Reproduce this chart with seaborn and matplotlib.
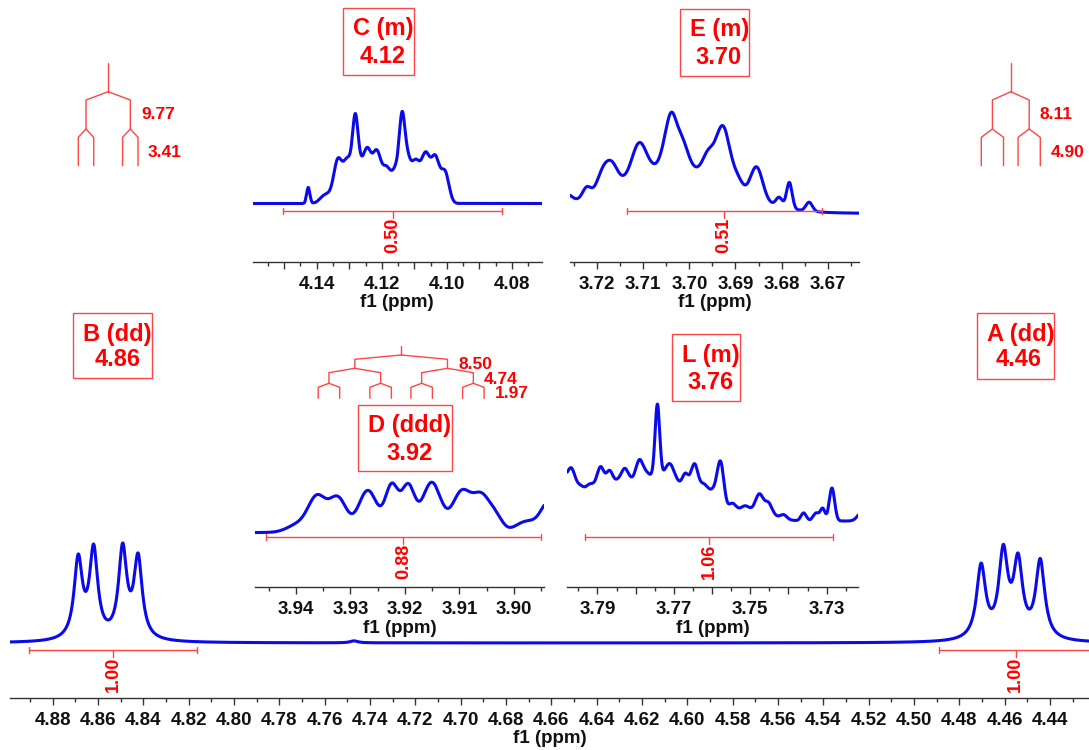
import numpy as np
import pandas as pd
import seaborn as sns
import matplotlib.pyplot as plt
from matplotlib import transforms
from matplotlib.patches import Rectangle

# ----------------------------
# DATA (ppm, height, line width)
# ----------------------------
MHZ = 500.0

# full spectrum: B (dd) and A (dd), Lorentzian lines
main_ppm = [4.8687, 4.8619, 4.8491, 4.8423, 4.7470, 4.4704, 4.4606, 4.4541, 4.4443]
main_amp = [79, 88, 89, 80, 2, 73, 84, 74, 78]
main_wid = [0.0022, 0.0022, 0.0022, 0.0022, 0.0020, 0.0024, 0.0024, 0.0024, 0.0024]

# inset C (m), Gaussian lines
c_ppm = [4.1426, 4.1372, 4.1335, 4.1305, 4.1275, 4.1245, 4.1215, 4.1185,
         4.1155, 4.1125, 4.1095, 4.1065, 4.1035, 4.1005, 4.1282, 4.1138]
c_amp = [16, 9, 42, 40, 40, 50, 48, 32, 32, 46, 38, 46, 44, 30, 46, 50]
c_sig = [0.0005, 0.0016, 0.0013, 0.0013, 0.0013, 0.0013, 0.0013, 0.0013,
         0.0013, 0.0013, 0.0013, 0.0013, 0.0013, 0.0012, 0.0008, 0.0008]

# inset E (m)
e_ppm = [3.7040, 3.7275, 3.7223, 3.7187, 3.7167, 3.7109, 3.7057, 3.7040,
         3.7017, 3.6959, 3.6927, 3.6895, 3.6854, 3.6805, 3.6783, 3.6740]
e_amp = [48, 14, 11, 20, 18, 30, 8, 46, 26, 20, 56, 10, 32, 9, 26, 9]
e_sig = [0.0120, 0.0017, 0.0009, 0.0013, 0.0012, 0.0015, 0.0009, 0.0011,
         0.0013, 0.0012, 0.0015, 0.0011, 0.0013, 0.0007, 0.0006, 0.0007]

# inset D (ddd)
d_ppm = [3.9395, 3.9361, 3.9323, 3.9268, 3.9224, 3.9194, 3.9151, 3.9096,
         3.9059, 3.9032, 3.8977, 3.8935]
d_amp = [8, 34, 34, 42, 46, 45, 50, 40, 35, 12, 11, 30]
d_sig = [0.0020, 0.0016, 0.0016, 0.0017, 0.0012, 0.0012, 0.0017, 0.0017,
         0.0016, 0.0012, 0.0020, 0.0015]

# inset L (m): plateau lines, then resolved lines
l_ppm = [3.7995, 3.7970, 3.7945, 3.7920, 3.7895, 3.7870, 3.7845, 3.7820,
         3.7795, 3.7770, 3.7745, 3.7720, 3.7695, 3.7670, 3.7645, 3.7620,
         3.7595,
         3.7967, 3.7891, 3.7867, 3.7830, 3.7788, 3.7743, 3.7708, 3.7670,
         3.7646, 3.7577, 3.7548, 3.7480, 3.7515, 3.7476, 3.7452, 3.7412,
         3.7360, 3.7327, 3.7310, 3.7286, 3.7205]
l_amp = [40, 38, 28, 30, 35, 35, 33, 35, 38, 38, 40, 40, 32, 34, 36, 30,
         25,
         8, 12, 8, 12, 16, 68, 14, 6, 14, 50, 15, 10, 8, 17, 10, 4,
         8, 8, 12, 33, 10]
l_sig = [0.0012, 0.0012, 0.0012, 0.0012, 0.0012, 0.0012, 0.0012, 0.0012,
         0.0012, 0.0012, 0.0012, 0.0012, 0.0012, 0.0012, 0.0012, 0.0012,
         0.0012,
         0.0009, 0.0008, 0.0008, 0.0008, 0.0009, 0.0006, 0.0009, 0.0007,
         0.0008, 0.0009, 0.0012, 0.0040, 0.0012, 0.0010, 0.0009, 0.0008,
         0.0007, 0.0008, 0.0006, 0.0007, 0.0012]

# integrals: (start ppm, end ppm, value)
int_b = (4.8904, 4.8163, "1.00")
int_a = (4.4888, 4.4216, "1.00")
int_c = (4.1503, 4.0829, "0.50")
int_e = (3.7136, 3.6713, "0.51")
int_d = (3.9455, 3.8951, "0.88")
int_l = (3.7932, 3.7284, "1.06")

# multiplet labels
lab_b = ("B (dd)", "4.86")
lab_a = ("A (dd)", "4.46")
lab_c = ("C (m)", "4.12")
lab_e = ("E (m)", "3.70")
lab_d = ("D (ddd)", "3.92")
lab_l = ("L (m)", "3.76")

# splitting trees: centre ppm and J (Hz)
tree_b = (4.8555, [9.77, 3.41])
tree_a = (4.4573, [8.11, 4.90])
tree_d = (3.9207, [8.50, 4.74, 1.97])

# ----------------------------
# STYLE / LAYOUT (pixels of a 1089x750 canvas)
# ----------------------------
W, H = 1089, 750
BLUE = "#0a0aeb"
RED = "#ff0000"
RED_LINE = "#ff4545"
TICK_FS = 13.5

sns.set_theme(style="white")
plt.rcParams["font.family"] = ["Liberation Sans", "DejaVu Sans"]
plt.rcParams["axes.facecolor"] = "none"

fig = plt.figure(figsize=(W / 100, H / 100), dpi=100)


def fy(y):
    return 1 - y / H


def line(grid, ppm, amp, wid, kind):
    x = np.asarray(grid)[:, None]
    p, a, w = np.asarray(ppm), np.asarray(amp), np.asarray(wid)
    if kind == "lorentz":
        return (a / (1 + ((x - p) / w) ** 2)).sum(axis=1)
    return (a * np.exp(-0.5 * ((x - p) / w) ** 2)).sum(axis=1)


def make_axes(left, right, top, axis_y, base_y, xlim, major, minor, labelled):
    ax = fig.add_axes([left / W, fy(axis_y), (right - left) / W, (axis_y - top) / H])
    ax.set_xlim(*xlim)
    ax.set_ylim(-(axis_y - base_y), base_y - top)
    sns.despine(ax=ax, left=True)
    ax.spines["bottom"].set_color("#333333")
    ax.spines["bottom"].set_linewidth(1.0)
    ax.set_yticks([])
    ax.set_xticks(major)
    ax.set_xticklabels([f"{v:.2f}" if lab else "" for v, lab in zip(major, labelled)])
    ax.set_xticks(minor, minor=True)
    ax.tick_params(axis="x", which="both", direction="out", bottom=True,
                   color="#333333", width=1.0, labelsize=TICK_FS, pad=5,
                   labelcolor="#111111")
    ax.tick_params(axis="x", which="major", length=5)
    ax.tick_params(axis="x", which="minor", length=3)
    for t in ax.get_xticklabels():
        t.set_fontweight("bold")
    ax.grid(False)
    return ax


def draw_spectrum(ax, ppm, amp, wid, kind):
    lo, hi = sorted(ax.get_xlim())
    grid = np.linspace(lo, hi, 3000)
    df = pd.DataFrame({"ppm": grid, "y": line(grid, ppm, amp, wid, kind)})
    sns.lineplot(data=df, x="ppm", y="y", ax=ax, color=BLUE, linewidth=2.2,
                 estimator=None, sort=False)
    ax.set_xlabel("f1 (ppm)", fontsize=TICK_FS, fontweight="bold", labelpad=1,
                  color="#111111")
    ax.set_ylabel("")


def draw_integral(ax, integ, y):
    start, end, value = integ
    tr = transforms.blended_transform_factory(ax.transData, fig.transFigure)
    kw = dict(transform=tr, color=RED_LINE, lw=1.0, clip_on=False)
    ax.plot([start, end], [fy(y), fy(y)], **kw)
    for x in (start, end):
        ax.plot([x, x], [fy(y - 3), fy(y + 3)], **kw)
    mid = (start + end) / 2
    ax.plot([mid, mid], [fy(y), fy(y + 7)], **kw)
    ax.text(mid, fy(y + 7), value, transform=tr, rotation=90, ha="center",
            va="top", color=RED, fontsize=13, fontweight="bold")


def draw_tree(ax, tree, stem, rows):
    centre, couplings = tree
    tr = transforms.blended_transform_factory(ax.transData, fig.transFigure)
    kw = dict(transform=tr, color=RED_LINE, lw=1.0, clip_on=False)
    ax.plot([centre, centre], [fy(stem[0]), fy(stem[1])], **kw)
    xs = [centre]
    for j, (y0, y1, y2) in zip(couplings, rows):
        nxt = []
        for x in xs:
            for s in (-1, 1):
                xc = x + s * j / MHZ / 2
                ax.plot([x, xc, xc], [fy(y0), fy(y1), fy(y2)], **kw)
                nxt.append(xc)
        xs = nxt


def draw_box(label, box, line1, line2):
    x0, y0, x1, y1 = box
    fig.add_artist(Rectangle((x0 / W, fy(y1)), (x1 - x0) / W, (y1 - y0) / H,
                             transform=fig.transFigure, fill=False,
                             edgecolor=RED_LINE, lw=1.0))
    fig.text(line1[0] / W, fy(line1[1]), label[0], ha="center", va="baseline",
             color=RED, fontsize=17, fontweight="bold")
    fig.text(line2[0] / W, fy(line2[1]), label[1], ha="center", va="baseline",
             color=RED, fontsize=17, fontweight="bold")


def jtext(x, y, s):
    fig.text(x / W, fy(y), s, ha="center", va="baseline", color=RED,
             fontsize=12.5, fontweight="bold")


def steps(a, b, step):
    n = int(round((a - b) / step))
    return [round(a - i * step, 3) for i in range(n + 1)]


# ----------------------------
# MAIN SPECTRUM
# ----------------------------
main_major = steps(4.88, 4.44, 0.02)
ax = make_axes(10, 1089, 0, 698, 643, (4.8988, 4.4228), main_major,
               steps(4.89, 4.43, 0.01), [True] * len(main_major))
draw_spectrum(ax, main_ppm, main_amp, main_wid, "lorentz")
draw_integral(ax, int_b, 650)
draw_integral(ax, int_a, 650)
tree_rows = [(91.7, 100, 129), (129, 137.3, 165.7)]
draw_tree(ax, tree_b, (63.3, 91.7), tree_rows)
draw_tree(ax, tree_a, (63.3, 91.7), tree_rows)
jtext(158, 119.3, "9.77")
jtext(164.3, 156.7, "3.41")
jtext(1055.8, 119, "8.11")
jtext(1067.7, 156.7, "4.90")
draw_box(lab_b, (73.3, 312.7, 151.7, 378.3), (117, 341.5), (117.7, 366.5))
draw_box(lab_a, (976.7, 312.7, 1054.3, 379), (1020.8, 341.5), (1018.7, 366.5))

# ----------------------------
# INSET C
# ----------------------------
maj = steps(4.15, 4.08, 0.01)
ax = make_axes(252.7, 541.7, 80, 261.7, 203.5, (4.1597, 4.0708), maj,
               steps(4.155, 4.075, 0.005), [round(v * 100) % 2 == 0 for v in maj])
draw_spectrum(ax, c_ppm, c_amp, c_sig, "gauss")
draw_integral(ax, int_c, 211)
draw_box(lab_c, (342.7, 8.3, 414, 75), (383, 35), (382.3, 63))

# ----------------------------
# INSET E
# ----------------------------
maj = steps(3.72, 3.67, 0.01)
ax = make_axes(570, 859, 80, 261.7, 213.3, (3.7259, 3.6632), maj,
               steps(3.725, 3.665, 0.005), [True] * len(maj))
draw_spectrum(ax, e_ppm, e_amp, e_sig, "gauss")
draw_integral(ax, int_e, 211)
draw_box(lab_e, (680, 9, 749.3, 76), (719.3, 36), (718.8, 64.3))

# ----------------------------
# INSET D
# ----------------------------
maj = steps(3.94, 3.90, 0.01)
ax = make_axes(255, 544, 470, 587.3, 532.5, (3.9475, 3.8945), maj,
               steps(3.945, 3.895, 0.005), [True] * len(maj))
draw_spectrum(ax, d_ppm, d_amp, d_sig, "gauss")
draw_integral(ax, int_d, 536.7)
draw_tree(ax, tree_d, (346, 355),
          [(355, 359.3, 368.3), (368.3, 372.7, 383.3), (383.3, 387.3, 398.3)])
jtext(475, 369.3, "8.50")
jtext(500.8, 384, "4.74")
jtext(511.7, 397.7, "1.97")
draw_box(lab_d, (358.3, 405, 451.7, 471), (409.5, 431.7), (409.7, 460))

# ----------------------------
# INSET L
# ----------------------------
maj = steps(3.79, 3.73, 0.01)
ax = make_axes(567.3, 858.3, 400, 587.3, 521, (3.7979, 3.7217), maj,
               steps(3.795, 3.725, 0.005), [round(v * 100) % 2 == 1 for v in maj])
draw_spectrum(ax, l_ppm, l_amp, l_sig, "gauss")
draw_integral(ax, int_l, 536.7)
draw_box(lab_l, (672.3, 334.3, 740, 400.7), (711.3, 361.7), (710.8, 389.3))

fig.savefig("out.png", dpi=100, facecolor="white")
